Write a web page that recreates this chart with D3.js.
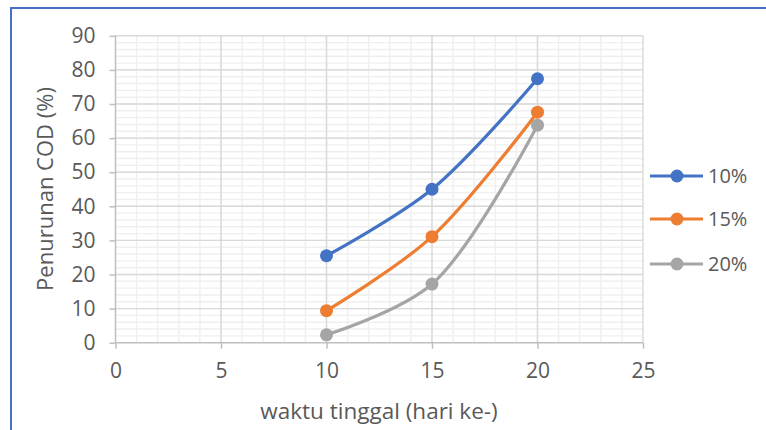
<!DOCTYPE html>
<html><head><meta charset="utf-8">
<script src="https://cdn.jsdelivr.net/npm/d3@7"></script>
<style>html,body{margin:0;padding:0;background:#fff;}svg{display:block;}</style>
</head><body>
<svg id="c" width="766" height="430"></svg>
<script>
const xValues = [10, 15, 20];
const seriesNames = ["10%", "15%", "20%"];
const series10 = [25.5, 45.0, 77.4];
const series15 = [9.4, 31.1, 67.6];
const series20 = [2.3, 17.2, 63.8];
const seriesColors = ["#4472C4", "#ED7D31", "#A5A5A5"];
const xTicks = [0, 5, 10, 15, 20, 25];
const yTicks = [0, 10, 20, 30, 40, 50, 60, 70, 80, 90];
const xTitle = "waktu tinggal (hari ke-)";
const yTitle = "Penurunan COD (%)";

const allSeries = [series10, series15, series20];
const svg = d3.select("#c");
const font = "'Open Sans', sans-serif";
const txt = "#595959";

// frame
svg.append("path").attr("d","M11,440 L11,8 L770,8").attr("fill","none").attr("stroke","#4472C4").attr("stroke-width",2);

const x = d3.scaleLinear().domain([0,25]).range([115.5,643]);
const y = d3.scaleLinear().domain([0,90]).range([342.7,35.8]);

const g = svg.append("g");
// minor grid
g.selectAll(".vm").data(d3.range(1,25)).enter().append("line")
  .attr("x1",d=>x(d)).attr("x2",d=>x(d)).attr("y1",y(0)).attr("y2",y(90))
  .attr("stroke","#efefef").attr("stroke-width",1.4);
g.selectAll(".hm").data(d3.range(2,90,2)).enter().append("line")
  .attr("x1",x(0)).attr("x2",x(25)).attr("y1",d=>y(d)).attr("y2",d=>y(d))
  .attr("stroke","#efefef").attr("stroke-width",1.4);
// major grid
g.selectAll(".vM").data(xTicks.slice(1)).enter().append("line")
  .attr("x1",d=>x(d)).attr("x2",d=>x(d)).attr("y1",y(0)).attr("y2",y(90))
  .attr("stroke","#d9d9d9").attr("stroke-width",1.4);
g.selectAll(".hM").data(yTicks.slice(1)).enter().append("line")
  .attr("x1",x(0)).attr("x2",x(25)).attr("y1",d=>y(d)).attr("y2",d=>y(d))
  .attr("stroke","#d9d9d9").attr("stroke-width",1.4);

// axes
const xAxis = svg.append("g").attr("transform",`translate(0,${y(0)})`)
  .call(d3.axisBottom(x).tickValues(xTicks).tickSize(6).tickPadding(14));
const yAxis = svg.append("g").attr("transform",`translate(${x(0)},0)`)
  .call(d3.axisLeft(y).tickValues(yTicks).tickSize(6).tickPadding(14));
[xAxis,yAxis].forEach(a=>{
  a.select(".domain").attr("stroke","#bfbfbf").attr("stroke-width",1.5);
  a.selectAll(".tick line").attr("stroke","#bfbfbf").attr("stroke-width",1.5);
  a.selectAll("text").attr("fill",txt).style("font-family",font).style("font-size","21px");
});
xAxis.select(".domain").attr("d",`M${x(0)},0H${x(25)}`);
yAxis.select(".domain").attr("d",`M0,${y(0)}V${y(90)}`);

// lines
const line = d3.line().x((d,i)=>x(xValues[i])).y(d=>y(d)).curve(d3.curveCatmullRom.alpha(0.5));
allSeries.forEach((s,k)=>{
  svg.append("path").datum(s).attr("d",line).attr("fill","none")
    .attr("stroke",seriesColors[k]).attr("stroke-width",3.2).attr("stroke-linecap","round");
  svg.selectAll(null).data(s).enter().append("circle")
    .attr("cx",(d,i)=>x(xValues[i])).attr("cy",d=>y(d)).attr("r",6.5).attr("fill",seriesColors[k]);
});

// titles
svg.append("text").attr("x",379).attr("y",419).attr("text-anchor","middle")
  .attr("fill",txt).style("font-family",font).style("font-size","22.5px").text(xTitle);
svg.append("text").attr("transform","translate(53,189) rotate(-90)").attr("text-anchor","middle")
  .attr("fill",txt).style("font-family",font).style("font-size","22px").text(yTitle);

// legend
const legY = [176, 219, 264];
seriesNames.forEach((n,k)=>{
  const lg = svg.append("g").attr("transform",`translate(0,${legY[k]})`);
  lg.append("line").attr("x1",650).attr("x2",703).attr("y1",0).attr("y2",0)
    .attr("stroke",seriesColors[k]).attr("stroke-width",3.2);
  lg.append("circle").attr("cx",677).attr("cy",0).attr("r",6.5).attr("fill",seriesColors[k]);
  lg.append("text").attr("x",708).attr("y",0).attr("dy","0.36em").attr("fill",txt)
    .style("font-family",font).style("font-size","20px").text(n);
});
</script>
</body></html>
